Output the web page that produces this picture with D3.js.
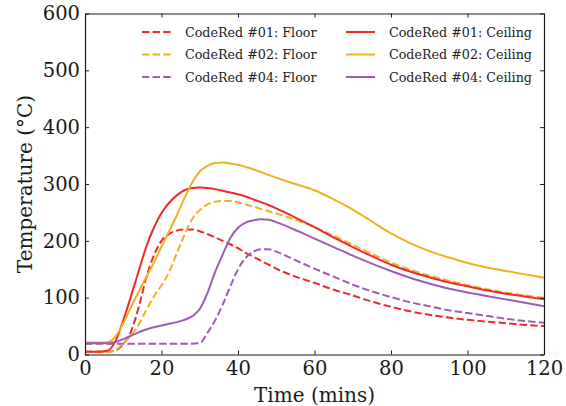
<!DOCTYPE html>
<html>
<head>
<meta charset="utf-8">
<script src="https://cdn.jsdelivr.net/npm/d3@7"></script>
<style>
  html, body { margin: 0; padding: 0; background: #fff; }
  svg { display: block; }
</style>
</head>
<body>
<svg id="chart" width="566" height="406"></svg>
<script>
// Time axis (minutes) shared by all series
const times = [0, 4, 6, 8, 10, 12, 14, 16, 18, 20, 22, 24, 26, 28, 30, 32, 34, 36, 38, 40,
               42, 44, 46, 48, 50, 55, 60, 65, 70, 75, 80, 85, 90, 95, 100, 105, 110, 115, 120];

// Temperatures (°C) at each time
const floor01 = [5, 5, 5, 7, 18, 40, 82, 135, 174, 200, 212, 218, 220, 220, 217, 212, 206, 200, 194, 187,
                 179, 172, 165, 158, 151, 137, 126, 114, 104, 93, 84, 76, 70, 65, 61, 58, 55, 52, 50];
const floor02 = [5, 5, 5, 8, 20, 33, 52, 78, 102, 122, 145, 178, 210, 238, 254, 264, 269, 270, 270, 268,
                 264, 260, 256, 252, 248, 237, 224, 209, 193, 177, 162, 149, 139, 130, 122, 115, 109, 104, 100];
const floor04 = [19, 19, 19, 19, 19, 19, 19, 19, 19, 19, 19, 19, 19, 19, 20, 38, 60, 88, 120, 150,
                 170, 181, 185, 185, 181, 166, 151, 137, 123, 111, 101, 92, 85, 78, 73, 68, 63, 59, 56];
const ceiling01 = [5, 5, 7, 24, 60, 102, 146, 189, 223, 249, 267, 280, 289, 293, 294, 293, 291, 288, 285, 282,
                   278, 273, 268, 263, 257, 241, 224, 206, 189, 173, 158, 146, 136, 127, 120, 113, 107, 102, 97];
const ceiling02 = [21, 21, 22, 32, 55, 83, 110, 136, 162, 190, 217, 245, 275, 302, 322, 332, 337, 338, 336, 334,
                   330, 326, 321, 316, 311, 300, 289, 273, 255, 234, 213, 196, 182, 171, 161, 153, 147, 141, 135];
const ceiling04 = [20, 20, 20, 22, 27, 33, 39, 44, 48, 51, 54, 57, 61, 67, 80, 108, 145, 176, 205, 223,
                   232, 236, 238, 237, 233, 219, 204, 189, 174, 160, 147, 135, 125, 116, 109, 103, 97, 91, 85];

const seriesNames = ["CodeRed #01: Floor", "CodeRed #02: Floor", "CodeRed #04: Floor",
                     "CodeRed #01: Ceiling", "CodeRed #02: Ceiling", "CodeRed #04: Ceiling"];
const seriesValues = [floor01, floor02, floor04, ceiling01, ceiling02, ceiling04];
const seriesColors = ["#ef2a2c", "#efb124", "#9c5db3", "#ef2a2c", "#efb124", "#9c5db3"];
const seriesDashed = [true, true, true, false, false, false];

const xTicks = [0, 20, 40, 60, 80, 100, 120];
const yTicks = [0, 100, 200, 300, 400, 500, 600];

const svg = d3.select("#chart");
const margin = { left: 85, right: 22, top: 13.5, bottom: 51.5 };
const W = 566, H = 406;
const x = d3.scaleLinear().domain([0, 120]).range([margin.left, W - margin.right]);
const y = d3.scaleLinear().domain([0, 600]).range([H - margin.bottom, margin.top]);

const serif = "'DejaVu Serif', serif";
const ink = "#1a1a1a";

// Data lines
const line = d3.line()
  .x((d, i) => x(times[i]))
  .y(d => y(d))
  .curve(d3.curveMonotoneX);

const plot = svg.append("g");
seriesValues.forEach((vals, k) => {
  plot.append("path")
    .datum(vals)
    .attr("d", line)
    .attr("fill", "none")
    .attr("stroke", seriesColors[k])
    .attr("stroke-width", 2)
    .attr("stroke-dasharray", seriesDashed[k] ? "7.4,3.2" : null)
    .attr("stroke-linejoin", "round");
});

// Axes: inward ticks on all four sides
function styleAxis(g) {
  g.selectAll("path.domain").attr("stroke", ink).attr("stroke-width", 1.2);
  g.selectAll(".tick line").attr("stroke", ink).attr("stroke-width", 1);
  g.selectAll(".tick text").attr("fill", ink).attr("font-family", serif).attr("font-size", 19.5);
}

svg.append("g")
  .attr("transform", `translate(0,${y(0)})`)
  .call(d3.axisBottom(x).tickValues(xTicks).tickSizeInner(-4).tickSizeOuter(0).tickPadding(7))
  .call(styleAxis);

svg.append("g")
  .attr("transform", `translate(0,${y(600)})`)
  .call(d3.axisTop(x).tickValues(xTicks).tickSizeInner(-4).tickSizeOuter(0).tickFormat(""))
  .call(styleAxis);

svg.append("g")
  .attr("transform", `translate(${x(0)},0)`)
  .call(d3.axisLeft(y).tickValues(yTicks).tickSizeInner(-4).tickSizeOuter(0).tickPadding(5))
  .call(styleAxis);

svg.append("g")
  .attr("transform", `translate(${x(120)},0)`)
  .call(d3.axisRight(y).tickValues(yTicks).tickSizeInner(-4).tickSizeOuter(0).tickFormat(""))
  .call(styleAxis);

// Axis titles
svg.append("text")
  .attr("x", (x(0) + x(120)) / 2)
  .attr("y", 401.5)
  .attr("text-anchor", "middle")
  .attr("font-family", serif)
  .attr("font-size", 20)
  .attr("fill", ink)
  .text("Time (mins)");

svg.append("text")
  .attr("transform", `translate(32,${(y(0) + y(600)) / 2}) rotate(-90)`)
  .attr("text-anchor", "middle")
  .attr("font-family", serif)
  .attr("font-size", 20)
  .attr("fill", ink)
  .text("Temperature (°C)");

// Legend: two columns of three entries
const legend = svg.append("g");
const colX = [142, 346];
const rowY = [32, 54.5, 77];
seriesNames.forEach((name, k) => {
  const col = Math.floor(k / 3), row = k % 3;
  const gx = colX[col], gy = rowY[row];
  legend.append("line")
    .attr("x1", gx).attr("x2", gx + 29)
    .attr("y1", gy).attr("y2", gy)
    .attr("stroke", seriesColors[k])
    .attr("stroke-width", 2)
    .attr("stroke-dasharray", seriesDashed[k] ? "7.4,3.2" : null);
  legend.append("text")
    .attr("x", gx + 43)
    .attr("y", gy)
    .attr("dy", "0.36em")
    .attr("font-family", serif)
    .attr("font-size", 12.7)
    .attr("fill", "#222")
    .text(name);
});
</script>
</body>
</html>
